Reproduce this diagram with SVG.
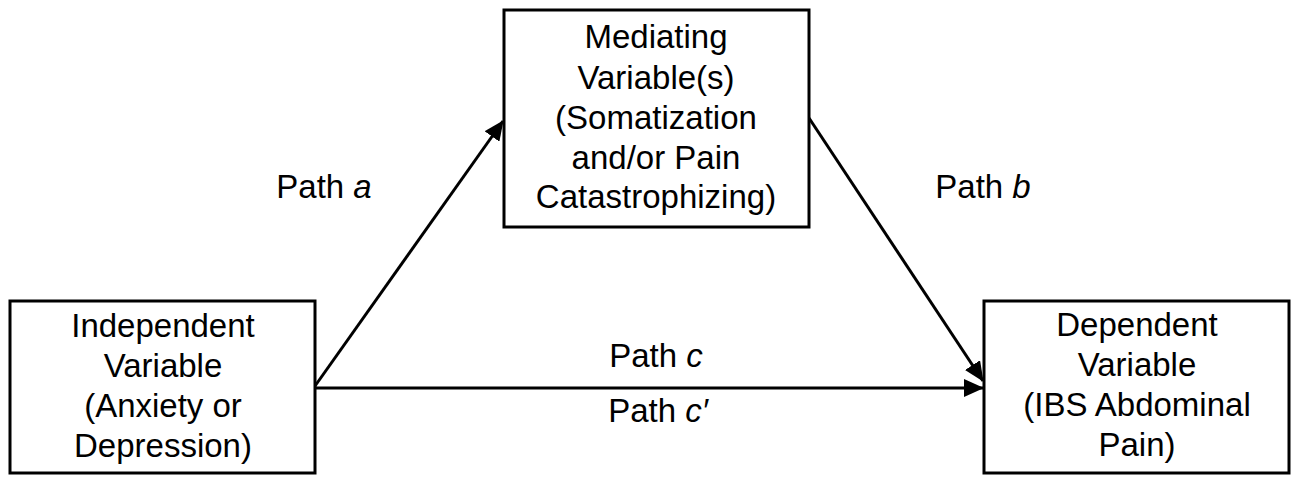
<svg xmlns="http://www.w3.org/2000/svg" width="1293" height="477" viewBox="0 0 1293 477">
<style>
.box{fill:#fff;stroke:#000;stroke-width:3}
.t{font-family:"Liberation Sans",Arial,sans-serif;font-size:33px;fill:#000;text-anchor:middle}
.c{stroke:#000;stroke-width:3;fill:none}
</style>
<defs>
<marker id="ah" markerUnits="userSpaceOnUse" markerWidth="20" markerHeight="18" refX="19" refY="9" orient="auto">
<path d="M0,0 L20,9 L0,18 Z" fill="#000"/>
</marker>
</defs>
<rect width="1293" height="477" fill="#fff"/>
<g id="connectors">
<line class="c" x1="315" y1="386" x2="503" y2="121" marker-end="url(#ah)"/>
<line class="c" x1="809" y1="118" x2="983" y2="381" marker-end="url(#ah)"/>
<line class="c" x1="315" y1="388" x2="983" y2="388" marker-end="url(#ah)"/>
</g>
<g id="mediator">
<rect class="box" x="504" y="10" width="305" height="217"/>
<text class="t" x="656" y="48">Mediating</text>
<text class="t" x="656" y="89">Variable(s)</text>
<text class="t" x="656" y="129">(Somatization</text>
<text class="t" x="656" y="169">and/or Pain</text>
<text class="t" x="656" y="208">Catastrophizing)</text>
</g>
<g id="independent">
<rect class="box" x="10" y="301" width="305" height="172"/>
<text class="t" x="163" y="337">Independent</text>
<text class="t" x="163" y="377">Variable</text>
<text class="t" x="163" y="417">(Anxiety or</text>
<text class="t" x="163" y="457">Depression)</text>
</g>
<g id="dependent">
<rect class="box" x="984" y="301" width="305" height="172"/>
<text class="t" x="1137" y="336">Dependent</text>
<text class="t" x="1137" y="376">Variable</text>
<text class="t" x="1137" y="416">(IBS Abdominal</text>
<text class="t" x="1137" y="456">Pain)</text>
</g>
<g id="labels">
<text class="t" x="324" y="198">Path <tspan font-style="italic">a</tspan></text>
<text class="t" x="983" y="198">Path <tspan font-style="italic">b</tspan></text>
<text class="t" x="656" y="367">Path <tspan font-style="italic">c</tspan></text>
<text class="t" x="658" y="422">Path <tspan font-style="italic">c′</tspan></text>
</g>
</svg>
